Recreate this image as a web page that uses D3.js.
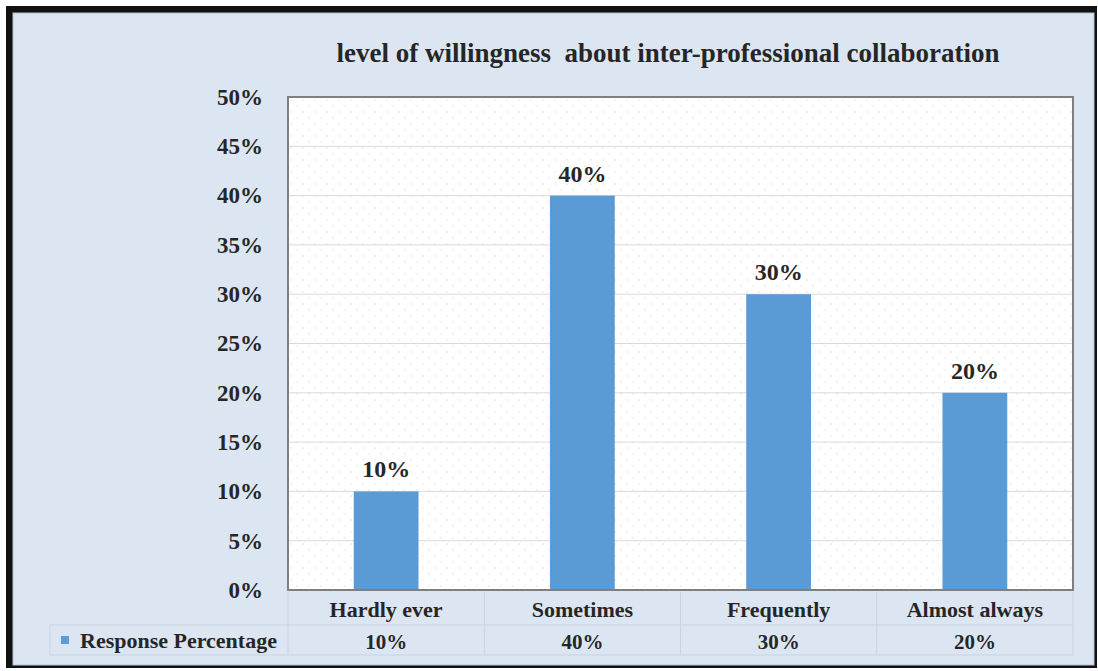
<!DOCTYPE html>
<html>
<head>
<meta charset="utf-8">
<script src="https://cdn.jsdelivr.net/npm/d3@7"></script>
<style>
  body { margin: 0; background: #fff; }
  text { font-family: "Liberation Serif", "Times New Roman", serif; font-weight: bold; fill: #262626; }
</style>
</head>
<body>
<div id="chart"></div>
<script>
var categories = ['Hardly ever', 'Sometimes', 'Frequently', 'Almost always'],
    values = [0.10, 0.40, 0.30, 0.20],
    yTicks = [0, 0.05, 0.10, 0.15, 0.20, 0.25, 0.30, 0.35, 0.40, 0.45, 0.50],
    seriesName = 'Response Percentage',
    title = 'level of willingness  about inter-professional collaboration'
;

var W = 1098, H = 671,
    margin = {top: 97, right: 25, bottom: 81, left: 288},
    barColor = '#5b9bd5',
    bg = '#dce6f2'
;

var svg = d3.select('#chart')
    .append('svg')
    .attr('width', W)
    .attr('height', H)
;

// Outer frame: heavy black left/top/bottom, thin dark right edge
svg.append('rect')
    .attr('x', 6).attr('y', 6)
    .attr('width', 1091).attr('height', 662)
    .attr('fill', '#111');

svg.append('rect')
    .attr('x', 13).attr('y', 13)
    .attr('width', 1081).attr('height', 652)
    .attr('fill', bg)
    .attr('stroke', '#b8c4d2')
    .attr('stroke-width', 1);

var width = W - margin.left - margin.right,
    height = H - margin.top - margin.bottom;

// dotted texture for the plot area
var defs = svg.append('defs');
var pat = defs.append('pattern')
    .attr('id', 'dots')
    .attr('width', 12).attr('height', 12)
    .attr('patternUnits', 'userSpaceOnUse');
pat.append('rect').attr('width', 12).attr('height', 12).attr('fill', '#fff');
pat.append('circle').attr('cx', 3).attr('cy', 3).attr('r', 0.9).attr('fill', '#ececec');
pat.append('circle').attr('cx', 9).attr('cy', 9).attr('r', 0.9).attr('fill', '#ececec');

var graph = svg.append('g')
    .attr('transform', 'translate(' + margin.left + ',' + margin.top + ')');

var x = d3.scaleBand().domain(categories).range([0, width]).paddingInner(0.67).paddingOuter(0.335),
    xCol = d3.scaleBand().domain(categories).range([0, width]),
    y = d3.scaleLinear().domain([0, 0.5]).range([height, 0]);

graph.append('rect')
    .attr('width', width)
    .attr('height', height)
    .attr('fill', 'url(#dots)');

// gridlines
graph.selectAll('.grid')
    .data(yTicks.slice(1))
    .enter()
    .append('line')
    .attr('class', 'grid')
    .attr('x1', 0).attr('x2', width)
    .attr('y1', function(d) { return y(d); })
    .attr('y2', function(d) { return y(d); })
    .attr('stroke', '#d9d9d9')
    .attr('stroke-width', 1);

// bars
graph.selectAll('.bar')
    .data(values)
    .enter()
    .append('rect')
    .attr('class', 'bar')
    .attr('x', function(d, i) { return x(categories[i]); })
    .attr('y', function(d) { return y(d); })
    .attr('width', x.bandwidth())
    .attr('height', function(d) { return height - y(d); })
    .attr('fill', barColor);

// bar labels
graph.selectAll('.lbl')
    .data(values)
    .enter()
    .append('text')
    .attr('class', 'lbl')
    .attr('x', function(d, i) { return x(categories[i]) + x.bandwidth() / 2; })
    .attr('y', function(d) { return y(d) - 14; })
    .attr('text-anchor', 'middle')
    .style('font-size', '24px')
    .text(function(d) { return d3.format('.0%')(d); });

// plot border
graph.append('rect')
    .attr('width', width)
    .attr('height', height)
    .attr('fill', 'none')
    .attr('stroke', '#7f7f7f')
    .attr('stroke-width', 2);

// y axis
var yAxis = d3.axisLeft(y)
    .tickValues(yTicks)
    .tickFormat(d3.format('.0%'))
    .tickSize(0)
    .tickPadding(25);

graph.append('g')
    .attr('class', 'axis axis--y')
    .call(yAxis)
    .call(function(g) { g.select('.domain').remove(); })
    .selectAll('text')
    .style('font-size', '23px')
    .style('font-family', '"Liberation Serif", serif')
    .attr('fill', '#262626');

// data table
var row1 = height + 2, row2 = height + 35, row3 = height + 65,
    tableLeft = 50 - margin.left,
    gridColor = '#c7d3e2';

var table = graph.append('g').attr('class', 'table');

table.append('line')
    .attr('x1', tableLeft).attr('x2', width)
    .attr('y1', row2).attr('y2', row2)
    .attr('stroke', gridColor);
table.append('line')
    .attr('x1', tableLeft).attr('x2', width)
    .attr('y1', row3).attr('y2', row3)
    .attr('stroke', gridColor);
table.append('line')
    .attr('x1', tableLeft).attr('x2', tableLeft)
    .attr('y1', row2).attr('y2', row3)
    .attr('stroke', gridColor);

table.selectAll('.vline')
    .data(categories.concat(['end']))
    .enter()
    .append('line')
    .attr('class', 'vline')
    .attr('x1', function(d, i) { return i * xCol.step(); })
    .attr('x2', function(d, i) { return i * xCol.step(); })
    .attr('y1', row1).attr('y2', row3)
    .attr('stroke', gridColor);

table.selectAll('.cat')
    .data(categories)
    .enter()
    .append('text')
    .attr('class', 'cat')
    .attr('x', function(d) { return xCol(d) + xCol.bandwidth() / 2; })
    .attr('y', row1 + 25)
    .attr('text-anchor', 'middle')
    .style('font-size', '22px')
    .text(function(d) { return d; });

table.selectAll('.val')
    .data(values)
    .enter()
    .append('text')
    .attr('class', 'val')
    .attr('x', function(d, i) { return xCol(categories[i]) + xCol.bandwidth() / 2; })
    .attr('y', row2 + 24)
    .attr('text-anchor', 'middle')
    .style('font-size', '21px')
    .text(function(d) { return d3.format('.0%')(d); });

// legend key in table
table.append('rect')
    .attr('x', tableLeft + 11)
    .attr('y', row2 + 11)
    .attr('width', 8).attr('height', 8)
    .attr('fill', barColor);

table.append('text')
    .attr('x', tableLeft + 30)
    .attr('y', row2 + 23)
    .style('font-size', '22px')
    .text(seriesName);

// title
svg.append('text')
    .attr('x', 668)
    .attr('y', 62)
    .attr('text-anchor', 'middle')
    .style('font-size', '27px')
    .style('white-space', 'pre')
    .text(title);
</script>
</body>
</html>
